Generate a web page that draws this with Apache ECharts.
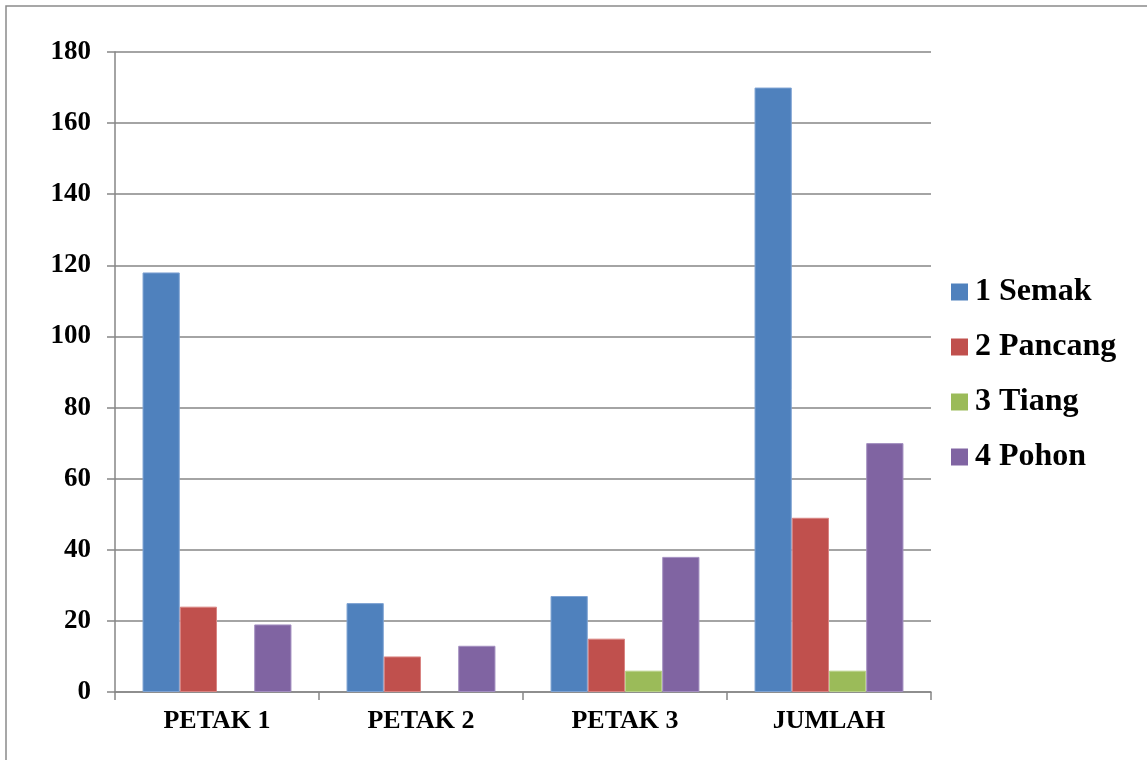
<!DOCTYPE html>
<html>
<head>
<meta charset="utf-8">
<script src="https://cdn.jsdelivr.net/npm/echarts@6/dist/echarts.min.js"></script>
<style>
  html, body { margin: 0; padding: 0; background: #fff; }
  #main { width: 1147px; height: 760px; }
</style>
</head>
<body>
<div id="main"></div>
<script>
// data
const categories = ['PETAK 1', 'PETAK 2', 'PETAK 3', 'JUMLAH'];
const semak = [118, 25, 27, 170];
const pancang = [24, 10, 15, 49];
const tiang = [0, 0, 6, 6];
const pohon = [19, 13, 38, 70];
const seriesNames = ['1 Semak', '2 Pancang', '3 Tiang', '4 Pohon'];
const colors = ['#4F81BD', '#C0504D', '#9BBB59', '#8064A2'];
const borders = ['#7FA3D3', '#D98482', '#B9D189', '#A38FC0'];

const chart = echarts.init(document.getElementById('main'));
const font = '"Liberation Serif", "Times New Roman", serif';

function bar(i, data) {
  return {
    name: seriesNames[i],
    type: 'bar',
    // zero bars get no outline so nothing shows on the axis
    data: data.map(v => v === 0 ? { value: 0, itemStyle: { borderWidth: 0 } } : v),
    barGap: '0%',
    barCategoryGap: '27%',
    itemStyle: { color: colors[i], borderColor: borders[i], borderWidth: 1 }
  };
}

const option = {
  backgroundColor: '#ffffff',
  animation: false,
  graphic: [{
    type: 'rect',
    shape: { x: 6, y: 6, width: 1200, height: 800 },
    style: { fill: 'none', stroke: '#8a8a8a', lineWidth: 1.5 },
    z: 100
  }],
  grid: { left: 115, right: 216, top: 52, bottom: 68 },
  legend: {
    orient: 'vertical',
    left: 951,
    top: 276,
    padding: 0,
    itemWidth: 17,
    itemHeight: 17,
    itemGap: 23,
    icon: 'rect',
    itemStyle: { borderWidth: 0 },
    textStyle: { fontFamily: font, fontWeight: 'bold', fontSize: 32, color: '#000', padding: [0, 0, 0, 2] },
    data: seriesNames
  },
  xAxis: {
    type: 'category',
    data: categories,
    axisLine: { lineStyle: { color: '#868686', width: 1.5 } },
    axisTick: { show: true, length: 8, alignWithLabel: false, lineStyle: { color: '#868686', width: 1.5 } },
    axisLabel: { fontFamily: font, fontWeight: 'bold', fontSize: 26, color: '#000', margin: 16 }
  },
  yAxis: {
    type: 'value',
    min: 0,
    max: 180,
    interval: 20,
    axisLine: { show: true, lineStyle: { color: '#868686', width: 1.5 } },
    axisTick: { show: true, length: 8, lineStyle: { color: '#868686', width: 1.5 } },
    splitLine: { lineStyle: { color: '#868686', width: 1.5 } },
    axisLabel: { fontFamily: font, fontWeight: 'bold', fontSize: 27, color: '#000', margin: 24 }
  },
  series: [bar(0, semak), bar(1, pancang), bar(2, tiang), bar(3, pohon)]
};

chart.setOption(option);
</script>
</body>
</html>
